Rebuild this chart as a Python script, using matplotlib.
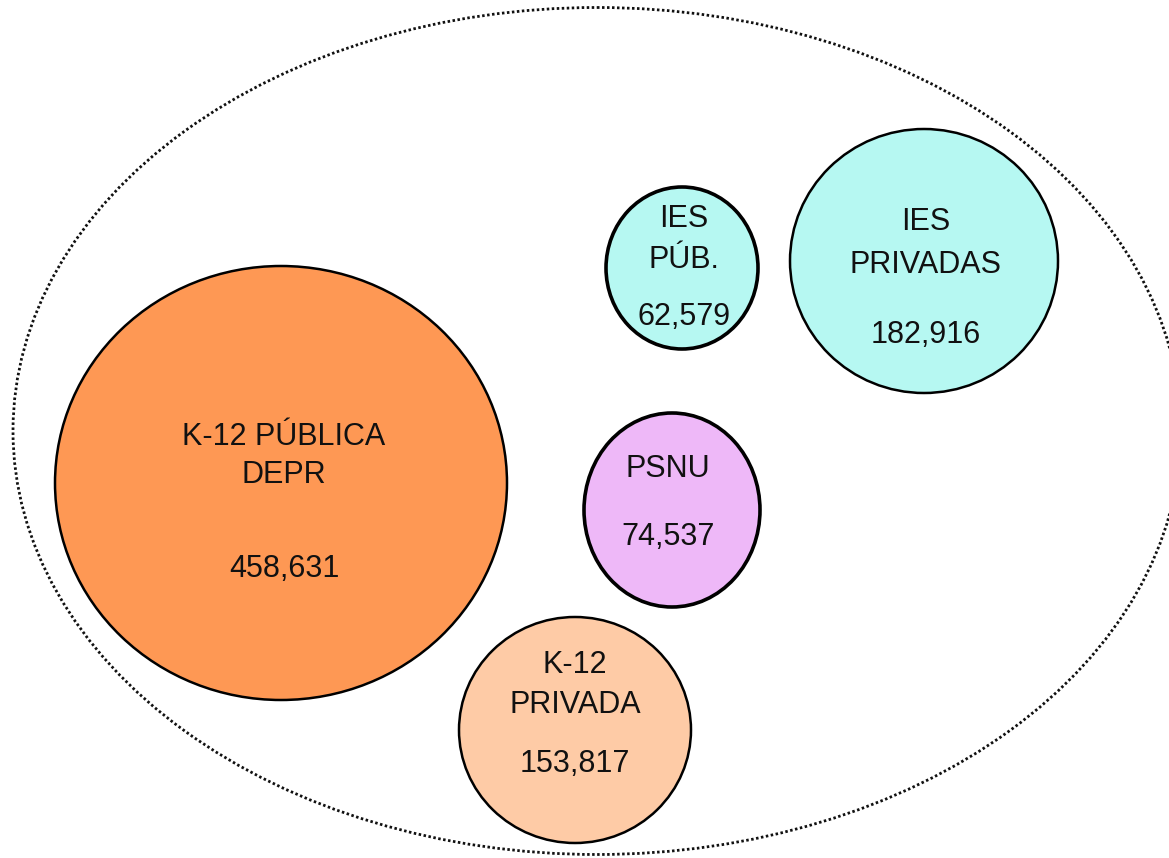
import matplotlib
matplotlib.use("Agg")
import matplotlib.pyplot as plt
from matplotlib.patches import Ellipse

# ---- data ----
names = [["K-12 PÚBLICA", "DEPR"], ["IES", "PÚB."], ["IES", "PRIVADAS"], ["PSNU"], ["K-12", "PRIVADA"]]
values = [458631, 62579, 182916, 74537, 153817]

# ---- layout (pixel coordinates, y downward) ----
centers = [(281, 483), (682, 268), (924, 261), (672, 510), (575, 730)]
widths = [452, 152, 268, 176, 232]
heights = [434, 162, 264, 194, 226]
edge_lw = [1.8, 2.6, 1.8, 2.6, 1.8]
colors = ["#FE9854", "#B6F8F2", "#B6F8F2", "#EEB8F8", "#FECBA6"]
# baselines for name lines and value line
name_baselines = [[445, 483], [227, 268], [230, 273], [477], [673, 713]]
value_baselines = [577, 325, 343, 545, 772]
text_x = [284, 684, 926, 668, 575]

W, H = 1169, 858
fig = plt.figure(figsize=(W / 100, H / 100), dpi=100)
ax = fig.add_axes([0, 0, 1, 1])
ax.set_xlim(0, W)
ax.set_ylim(H, 0)
ax.axis("off")

# outer dotted ellipse
ax.add_patch(Ellipse((597, 431), 1168, 847, fill=False, edgecolor="#111111",
                     linewidth=2.0, linestyle=(0, (0.9, 0.9))))

font = dict(family=["Liberation Sans", "DejaVu Sans"], fontsize=22, color="#111111",
            ha="center", va="baseline")

for i in range(len(values)):
    ax.add_patch(Ellipse(centers[i], widths[i], heights[i], facecolor=colors[i],
                         edgecolor="black", linewidth=edge_lw[i]))
    for line, yb in zip(names[i], name_baselines[i]):
        ax.text(text_x[i], yb, line, **font)
    ax.text(text_x[i], value_baselines[i], f"{values[i]:,}", **font)

fig.savefig("out.png", dpi=100)
